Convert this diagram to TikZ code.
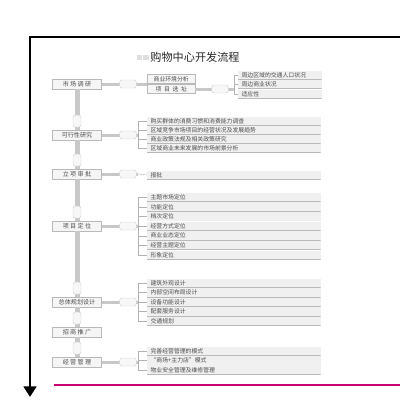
\documentclass[tikz,border=0pt]{standalone}
\usepackage{fontspec}
\setmainfont{Noto Sans CJK SC}
\usetikzlibrary{arrows.meta}
\definecolor{rose}{RGB}{204,0,119}
\definecolor{barg}{RGB}{200,200,200}

\begin{document}
\begin{tikzpicture}[x=0.3mm, y=-0.3mm, every node/.style={font=\fontsize{5}{6}\selectfont, inner sep=0pt, text=black!70},
	stage/.style={draw=gray!55, fill=gray!8, minimum width=14.7mm, minimum height=3mm, font=\fontsize{5.2}{6}\selectfont},
	sub/.style={draw=gray!55, fill=gray!8, minimum width=14.4mm, minimum height=2.7mm, anchor=west},
	item/.style={fill=gray!12, text width=50mm, minimum height=2.7mm, anchor=west, inner xsep=1mm,
		path picture={\draw[gray!55, line width=0.7pt] (path picture bounding box.south west) -- (path picture bounding box.south east);}},
	knob/.style={draw=gray!35, fill=gray!6, rounded corners=2pt, minimum width=5mm, minimum height=2.4mm},
	vknob/.style={draw=gray!35, fill=gray!6, rounded corners=2pt, minimum width=2.4mm, minimum height=3.6mm},
	hbar/.style={barg, line width=0.9mm},
	vbar/.style={barg, line width=1.5mm},
	brk/.style={gray!60, line width=0.3pt}]
	\useasboundingbox (0,0) rectangle (400,410);
	% frame and arrow
	\draw[line width=2.4pt, -{Triangle[width=3.8mm,length=3.2mm]}] (400,37) -- (30,37) -- (30,397);
	\draw[rose, line width=0.6mm] (54,385) -- (400,385);
	% title
	\fill[gray!25] (137,55) rectangle (142,60);
	\fill[gray!25] (143,55) rectangle (149,60);
	\node[font=\fontsize{9.5}{10}\selectfont, text=black!85] (title) at (195,57) {购物中心开发流程};
	% stages
	\node[stage] (s1) at (77,84) {市\ 场\ 调\ 研};
	\node[stage] (s2) at (77,135) {可行性研究};
	\node[stage] (s3) at (77,174) {立\ 项\ 审\ 批};
	\node[stage] (s4) at (77,226) {项\ 目\ 定\ 位};
	\node[stage] (s5) at (77,302) {总体规划设计};
	\node[stage] (s6) at (77,332) {招\ 商\ 推\ 广};
	\node[stage] (s7) at (77,362) {经\ 营\ 管\ 理};
	\foreach \a/\b in {s1/s2,s2/s3,s3/s4,s4/s5,s5/s6,s6/s7}{
		\draw[vbar] (\a.south) -- (\b.north);
		\node[vknob] at ([yshift=2.6mm]\b.north) {};
	}
	% group 1
	\node[sub] (c1) at (147,79) {商业环境分析};
	\node[sub] (c2) at (147,89) {项\ \ 目\ \ 选\ \ 址};
	\coordinate (j1) at (147,84);
	\draw[hbar] (s1.east) -- (j1);
	\node[knob] at (128,84) {};
	\node[item, text width=23mm] (d1) at (238,75) {周边区域的交通人口状况};
	\node[item, text width=23mm] (d2) at (238,84) {周边商业状况};
	\node[item, text width=23mm] (d3) at (238,94) {适应性};
	\coordinate (k1) at (234,89);
	\draw[hbar] (c2.east) -- (k1);
	\node[knob] at (220,89) {};
	\draw[brk] (k1 |- d1.west) -- (k1 |- d3.west);
	\foreach \n in {d1,d2,d3} \draw[brk] (k1 |- \n.west) -- (\n.west);
	% group 2
	\foreach \t [count=\i] in {购买群体的消费习惯和消费能力调查, 区域竞争市场项目的经营状况及发展趋势, 商业政策法规及相关政策研究, 区域商业未来发展的市场前景分析}
		\node[item] (b2-\i) at (147,112+9*\i) {\t};
	\coordinate (j2) at (138,135);
	\draw[brk] (j2 |- b2-1.west) -- (j2 |- b2-4.west);
	\foreach \i in {1,...,4} \draw[brk] (j2 |- b2-\i.west) -- (b2-\i.west);
	% group 3
	\node[item] (b3-1) at (147,175) {报批};
	\coordinate (j3) at (138,174);
	\draw[brk] (j3) -- (b3-1.west);
	% group 4
	\foreach \t [count=\i] in {主题市场定位, 功能定位, 档次定位, 经营方式定位, 商业业态定位, 经营主题定位, 形象定位}
		\node[item] (b4-\i) at (147,187.5+9.65*\i) {\t};
	\coordinate (j4) at (138,226);
	\draw[brk] (j4 |- b4-1.west) -- (j4 |- b4-7.west);
	\foreach \i in {1,...,7} \draw[brk] (j4 |- b4-\i.west) -- (b4-\i.west);
	% group 5
	\foreach \t [count=\i] in {建筑外观设计, 内部空间布局设计, 设备功能设计, 配套服务设计, 交通规划}
		\node[item] (b5-\i) at (147,273.5+9.5*\i) {\t};
	\coordinate (j5) at (138,302);
	\draw[brk] (j5 |- b5-1.west) -- (j5 |- b5-5.west);
	\foreach \i in {1,...,5} \draw[brk] (j5 |- b5-\i.west) -- (b5-\i.west);
	% group 7
	\foreach \t [count=\i] in {完善经营管理的模式, “商场+主力店”模式, 物业安全管理及维修管理}
		\node[item] (b7-\i) at (147,342+9.3*\i) {\t};
	\coordinate (j7) at (138,362);
	\draw[brk] (j7 |- b7-1.west) -- (j7 |- b7-3.west);
	\foreach \i in {1,...,3} \draw[brk] (j7 |- b7-\i.west) -- (b7-\i.west);
	% links to groups
	\foreach \s/\j in {s2/j2,s3/j3,s4/j4,s5/j5,s7/j7}{
		\draw[hbar] (\s.east) -- (\j);
		\node[knob] at ([xshift=-3mm]\j) {};
	}
\end{tikzpicture}
\end{document}
